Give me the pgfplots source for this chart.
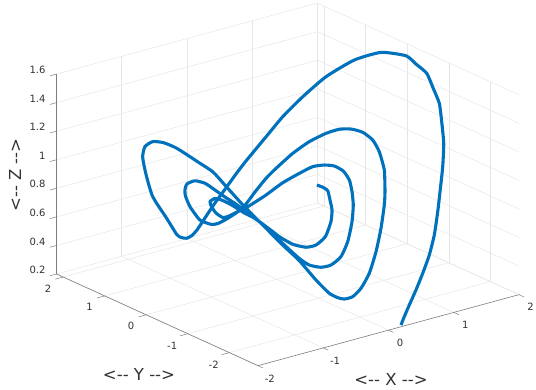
\documentclass[border=0pt]{standalone}
\usepackage{fontspec}
\setmainfont{DejaVu Sans}
\usepackage{pgfplots}
\pgfplotsset{compat=1.18}
\definecolor{mblue}{RGB}{0,114,189}
\definecolor{gridc}{RGB}{230,230,230}
\definecolor{axc}{RGB}{125,125,125}
\definecolor{txtc}{RGB}{50,50,50}

\pgfplotstableread{
x y z
0.228 -2.633 0.200
0.309 -2.584 0.242
0.428 -2.518 0.300
0.582 -2.436 0.375
0.748 -2.339 0.459
0.921 -2.225 0.550
1.090 -2.080 0.650
1.263 -1.891 0.767
1.404 -1.724 0.865
1.582 -1.510 0.992
1.733 -1.297 1.109
1.844 -1.074 1.217
1.932 -0.878 1.309
1.966 -0.668 1.389
1.992 -0.481 1.459
1.945 -0.296 1.505
1.900 -0.127 1.546
1.681 0.130 1.563
1.378 0.298 1.525
1.005 0.395 1.441
0.662 0.415 1.341
0.349 0.406 1.241
0.069 0.366 1.141
-0.270 0.317 1.020
-0.444 0.284 0.955
-0.625 0.242 0.885
-0.820 0.199 0.810
-1.007 0.147 0.735
-1.156 0.105 0.675
-1.237 0.098 0.648
-1.305 0.119 0.634
-1.354 0.178 0.638
-1.376 0.247 0.653
-1.375 0.489 0.733
-1.381 0.721 0.808
-1.376 0.841 0.850
-1.339 0.989 0.910
-1.292 1.142 0.975
-1.235 1.288 1.042
-1.152 1.363 1.092
-1.048 1.340 1.117
-0.952 1.236 1.112
-0.857 1.062 1.084
-0.725 0.710 1.009
-0.652 0.510 0.965
-0.612 0.244 0.890
-0.564 -0.072 0.800
-0.484 -0.501 0.684
-0.424 -0.809 0.600
-0.360 -1.108 0.522
-0.316 -1.441 0.425
-0.269 -1.687 0.359
-0.214 -1.804 0.337
-0.159 -1.876 0.330
-0.065 -1.930 0.342
0.066 -1.925 0.384
0.236 -1.857 0.459
0.430 -1.714 0.567
0.619 -1.537 0.684
0.791 -1.346 0.800
0.878 -1.226 0.867
1.002 -1.015 0.975
1.064 -0.796 1.067
1.072 -0.626 1.125
1.022 -0.463 1.164
0.930 -0.327 1.180
0.816 -0.223 1.179
0.664 -0.141 1.158
0.454 -0.071 1.117
0.225 -0.031 1.058
-0.026 -0.023 0.983
-0.182 -0.027 0.933
-0.371 -0.058 0.865
-0.529 -0.090 0.805
-0.679 -0.085 0.760
-0.827 -0.052 0.725
-0.915 -0.023 0.708
-0.982 0.025 0.703
-1.067 0.173 0.725
-1.082 0.389 0.792
-1.061 0.531 0.845
-1.030 0.592 0.875
-0.975 0.631 0.905
-0.878 0.590 0.921
-0.797 0.475 0.909
-0.752 0.354 0.882
-0.688 0.165 0.840
-0.621 -0.012 0.802
-0.556 -0.231 0.750
-0.474 -0.486 0.692
-0.414 -0.793 0.608
-0.346 -1.085 0.533
-0.290 -1.239 0.500
-0.192 -1.365 0.489
-0.082 -1.434 0.500
0.064 -1.445 0.542
0.219 -1.364 0.617
0.381 -1.213 0.716
0.494 -1.066 0.800
0.562 -0.929 0.867
0.607 -0.794 0.925
0.603 -0.654 0.970
0.547 -0.526 0.995
0.457 -0.427 1.000
0.336 -0.338 0.992
0.167 -0.280 0.958
-0.049 -0.219 0.911
-0.283 -0.186 0.850
-0.525 -0.132 0.792
-0.651 -0.089 0.767
-0.764 -0.051 0.745
-0.831 -0.011 0.737
-0.871 0.095 0.760
-0.875 0.196 0.792
-0.860 0.256 0.817
-0.792 0.243 0.833
-0.738 0.167 0.825
-0.672 0.029 0.800
-0.594 -0.169 0.758
-0.529 -0.307 0.733
-0.443 -0.581 0.670
-0.407 -0.700 0.642
-0.324 -0.892 0.604
-0.214 -1.041 0.589
-0.105 -1.109 0.600
0.035 -1.115 0.642
0.179 -1.023 0.716
0.260 -0.922 0.775
0.301 -0.809 0.825
0.335 -0.701 0.872
0.308 -0.624 0.889
0.266 -0.550 0.900
}\curvedata

\begin{document}
\begin{tikzpicture}
\begin{axis}[
    x={(65.25pt,17.75pt)},
    y={(-41.55pt,18.9pt)},
    z={(0pt,142.8pt)},
    xmin=-2, xmax=2,
    ymin=-2.69, ymax=2.16,
    zmin=0.2, zmax=1.6,
    clip=false,
    grid=major,
    grid style={gridc, line width=0.5pt},
    axis line style={draw=none},
    tick style={draw=none},
    tick align=outside,
    major tick length=5pt,
    xtick pos=left, ytick pos=left, ztick pos=left,
    xtick={-2,-1,0,1,2},
    ytick={-2,-1,0,1,2},
    ztick={0.2,0.4,0.6,0.8,1,1.2,1.4,1.6},
    xticklabels={-2,-1,0,1,2},
    yticklabels={-2,-1,0,1,2},
    zticklabels={0.2,0.4,0.6,0.8,1,1.2,1.4,1.6},
    tick label style={font=\fontsize{10}{11}\selectfont, text=txtc},
    x tick label style={xshift=2pt, yshift=-2.5pt},
    y tick label style={xshift=-4.5pt, yshift=-2.5pt},
    z tick label style={xshift=-3pt, yshift=1pt},
    xlabel={<-{}- X -{}->},
    ylabel={<-{}- Y -{}->},
    zlabel={<-{}- Z -{}->},
    every axis x label/.style={at={([xshift=334.5pt,yshift=-105.3pt]rel axis cs:0,1,0)},anchor=center,font=\fontsize{16.5}{18}\selectfont,text=txtc},
    every axis y label/.style={at={([xshift=82.5pt,yshift=-100pt]rel axis cs:0,1,0)},anchor=center,font=\fontsize{16.5}{18}\selectfont,text=txtc},
    every axis z label/.style={at={([xshift=-41.5pt,yshift=99pt]rel axis cs:0,1,0)},anchor=center,rotate=90,font=\fontsize{16.5}{18}\selectfont,text=txtc},
]
\addplot3[axc, line width=0.6pt, forget plot] coordinates {(-2,2.16,0.2) (-2,2.16,1.6)};
\addplot3[axc, line width=0.6pt, forget plot] coordinates {(-2,2.16,0.2) (-2,-2.69,0.2) (2,-2.69,0.2)};
\pgfplotsinvokeforeach{-2,-1,0,1,2}{
  \draw[axc, line width=0.5pt] (axis cs:#1,-2.69,0.2) -- (axis cs:#1,-2.81,0.2);
  \draw[axc, line width=0.5pt] (axis cs:-2,#1,0.2) -- (axis cs:-2.12,#1,0.2);
}
\pgfplotsinvokeforeach{0.2,0.4,0.6,0.8,1,1.2,1.4,1.6}{
  \draw[axc, line width=0.5pt] (axis cs:-2,2.16,#1) -- (axis cs:-2.1,2.16,#1);
}
\addplot3[mblue, line width=3.1pt, line join=round, no marks, smooth, tension=0.35] table {\curvedata};
\coordinate (c) at (axis cs:-2,2.16,0.2);
\end{axis}
\pgfresetboundingbox
\path[use as bounding box] ([xshift=-56.5pt,yshift=274pt]c) rectangle ([xshift=479.5pt,yshift=-116pt]c);
\end{tikzpicture}
\end{document}
